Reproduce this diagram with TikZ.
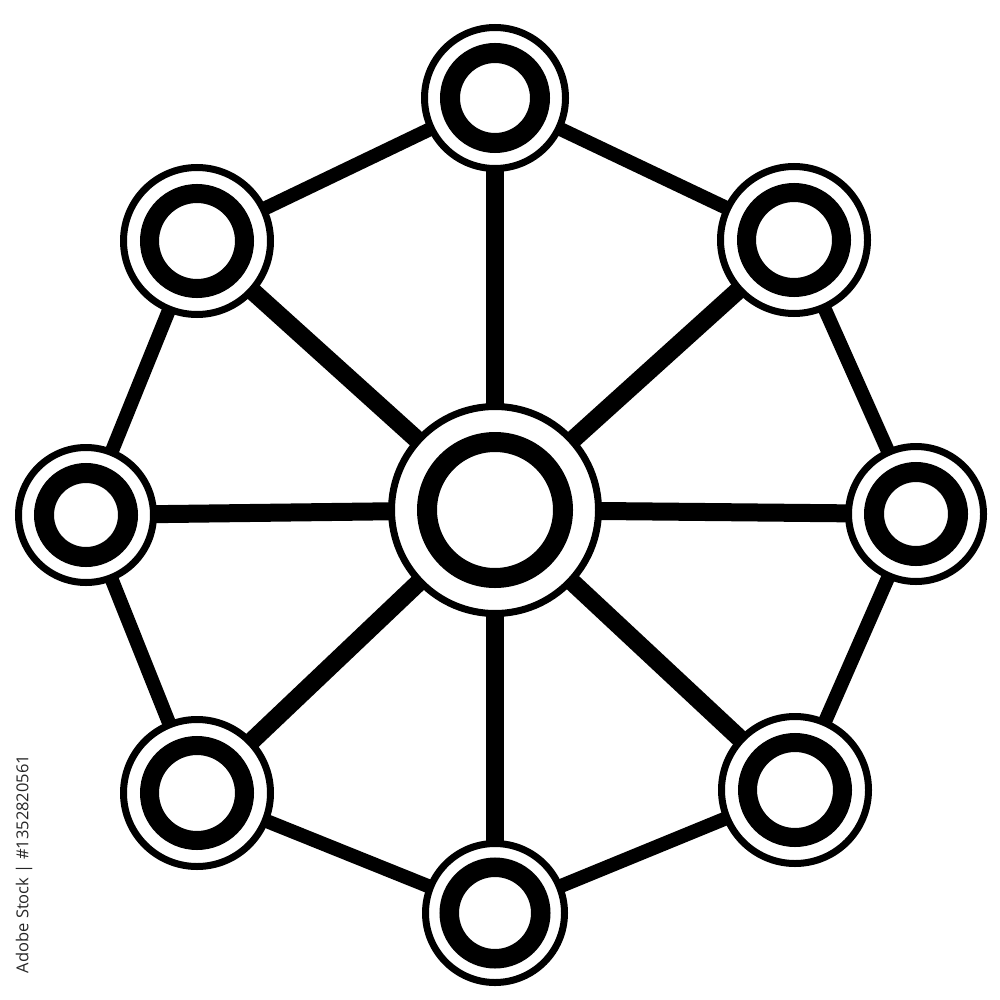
\documentclass[tikz,border=0pt]{standalone}
\usepackage{fontspec}
\setmainfont{Open Sans}
\usetikzlibrary{backgrounds}
\tikzset{
  hub/.style={circle, draw=black, fill=white, line width=7pt, inner sep=0pt, minimum size=#1},
  spoke/.style={draw=black, line width=18pt},
  rim/.style={draw=black, line width=14pt},
  core/.style={draw=black, line width=#1},
  mark text/.style={font=\fontsize{16.5}{19}\selectfont, text=black!85, rotate=90, inner sep=0pt}
}
\begin{document}
\begin{tikzpicture}[x=1pt,y=-1pt]
\useasboundingbox (0,0) rectangle (1000,1000);
% nodes
\node[hub=207pt] (C)  at (495,510) {};
\node[hub=141pt] (T)  at (495,98)  {};
\node[hub=147pt] (TL) at (197,241) {};
\node[hub=147pt] (TR) at (794,240) {};
\node[hub=135pt] (L)  at (86,515)  {};
\node[hub=135pt] (R)  at (916,514) {};
\node[hub=147pt] (BL) at (197,793) {};
\node[hub=147pt] (BR) at (795,790) {};
\node[hub=139pt] (B)  at (495,913) {};
% inner thick rings
\draw[core=20pt] (C.center)  circle (68);
\draw[core=20pt] (T.center)  circle (45);
\draw[core=19pt] (TL.center) circle (47.5);
\draw[core=19pt] (TR.center) circle (47.5);
\draw[core=20pt] (L.center)  circle (42);
\draw[core=20pt] (R.center)  circle (42);
\draw[core=19pt] (BL.center) circle (47.5);
\draw[core=19pt] (BR.center) circle (47.5);
\draw[core=19.5pt] (B.center) circle (45.75);
% connectors
\begin{pgfonlayer}{background}
\foreach \n in {T,TL,TR,L,R,BL,BR,B}
  \draw[spoke] (C.center) -- (\n.center);
\draw[rim] (T.center) -- (TL.center) -- (L.center) -- (BL.center) -- (B.center)
  -- (BR.center) -- (R.center) -- (TR.center) -- cycle;
\end{pgfonlayer}
% watermark caption
\node[mark text] (wm) at (24,864) {Adobe Stock | \#1352820561};
\end{tikzpicture}
\end{document}
